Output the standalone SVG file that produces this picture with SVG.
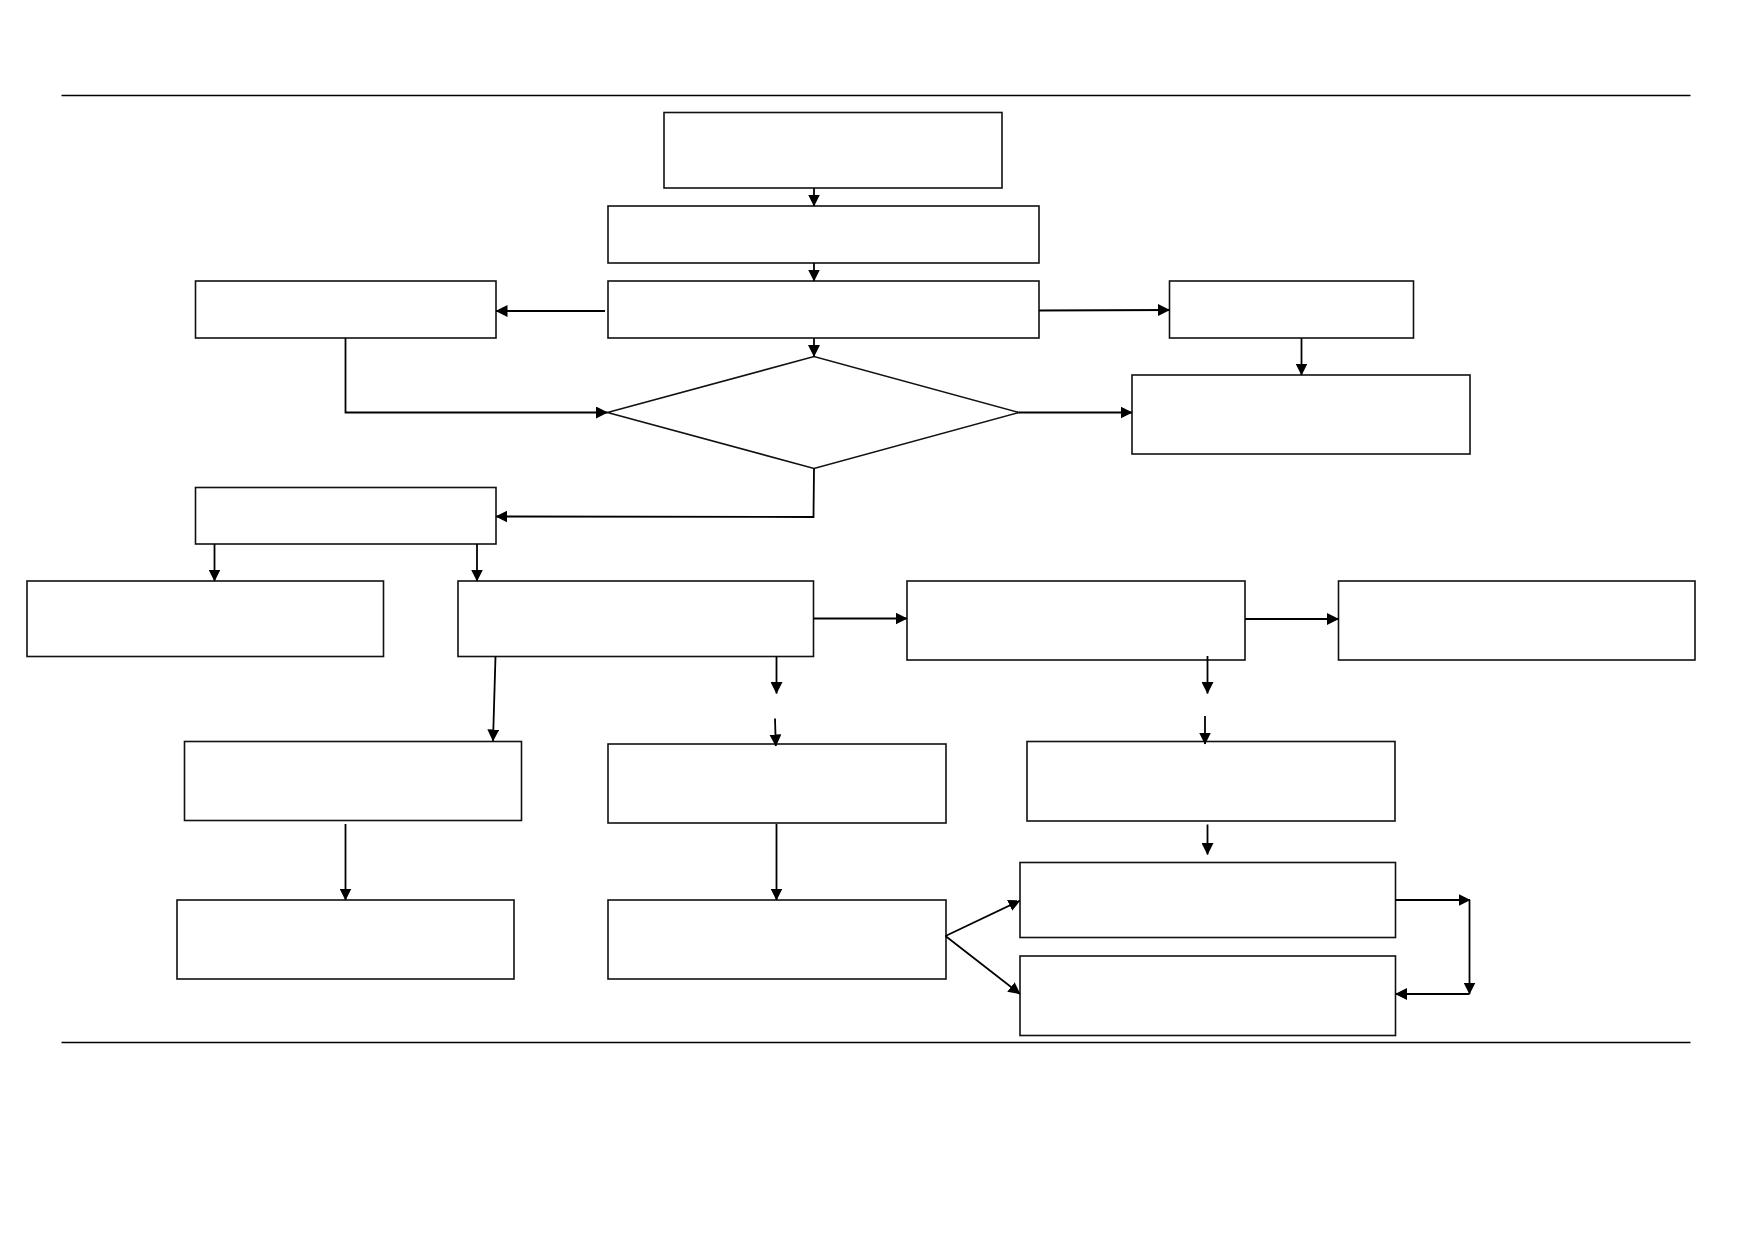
<svg xmlns="http://www.w3.org/2000/svg" width="1752" height="1239" viewBox="0 0 1752 1239">
<style>
.n{fill:#fff;stroke:#111;stroke-width:1.6}
.c{fill:none;stroke:#000;stroke-width:1.8}
.rule{stroke:#000;stroke-width:1.4}
</style>
<defs>
<marker id="ah" markerUnits="userSpaceOnUse" markerWidth="12" markerHeight="12" refX="11.5" refY="6" orient="auto">
<path d="M0,0 L12,6 L0,12 z" fill="#000"/>
</marker>
</defs>
<rect width="1752" height="1239" fill="#fff"/>
<line class="rule" x1="61.5" y1="95.5" x2="1690.5" y2="95.5"/>
<line class="rule" x1="61.5" y1="1042.5" x2="1690.5" y2="1042.5"/>
<g id="box1"><rect class="n" x="664" y="112.5" width="338" height="75.5"/></g>
<g id="box2"><rect class="n" x="608" y="206" width="431" height="57"/></g>
<g id="box3"><rect class="n" x="608" y="281" width="431" height="57"/></g>
<g id="boxA"><rect class="n" x="195.5" y="281" width="300.5" height="57"/></g>
<g id="boxB"><rect class="n" x="1169.5" y="281" width="244" height="57"/></g>
<g id="boxC"><rect class="n" x="1132" y="375" width="338" height="79"/></g>
<g id="decision"><polygon class="n" points="607.5,412.5 814,356.5 1019,412.5 814,468.5"/></g>
<g id="boxD"><rect class="n" x="195.5" y="487.5" width="300.5" height="56.5"/></g>
<g id="boxE"><rect class="n" x="27" y="581" width="356.5" height="75.5"/></g>
<g id="boxF"><rect class="n" x="458" y="581" width="355.5" height="75.5"/></g>
<g id="boxG"><rect class="n" x="907" y="581" width="338" height="79"/></g>
<g id="boxH"><rect class="n" x="1338.5" y="581" width="356.5" height="79"/></g>
<g id="boxI"><rect class="n" x="184.5" y="741.5" width="337" height="79"/></g>
<g id="boxJ"><rect class="n" x="608" y="744" width="338" height="79"/></g>
<g id="boxK"><rect class="n" x="1027" y="741.5" width="368" height="79.5"/></g>
<g id="boxL"><rect class="n" x="177" y="900" width="337" height="79"/></g>
<g id="boxM"><rect class="n" x="608" y="900" width="338" height="79"/></g>
<g id="boxN"><rect class="n" x="1020" y="862.5" width="375.5" height="75"/></g>
<g id="boxO"><rect class="n" x="1020" y="956" width="375.5" height="79.5"/></g>
<g id="connectors">
<path class="c" marker-end="url(#ah)" d="M814,188 L814,206"/>
<path class="c" marker-end="url(#ah)" d="M814,263 L814,281"/>
<path class="c" marker-end="url(#ah)" d="M814,338 L814,356.5"/>
<path class="c" marker-end="url(#ah)" d="M605,311 L496,311"/>
<path class="c" marker-end="url(#ah)" d="M1039,310.5 L1169.5,310"/>
<path class="c" marker-end="url(#ah)" d="M1301.5,338 L1301.5,375"/>
<path class="c" marker-end="url(#ah)" d="M345.5,338 L345.5,412.5 L607.5,412.5"/>
<path class="c" marker-end="url(#ah)" d="M1019,412.5 L1132,412.5"/>
<path class="c" marker-end="url(#ah)" d="M814,468.5 L813.5,517 L496,516.5"/>
<path class="c" marker-end="url(#ah)" d="M214.5,544 L214.5,581"/>
<path class="c" marker-end="url(#ah)" d="M477,544 L477,581"/>
<path class="c" marker-end="url(#ah)" d="M813.5,618.5 L907,618.5"/>
<path class="c" marker-end="url(#ah)" d="M1245,619 L1338.5,619"/>
<path class="c" marker-end="url(#ah)" d="M495.5,656.5 L493,741"/>
<path class="c" marker-end="url(#ah)" d="M776.5,656.5 L776.5,693.5"/>
<path class="c" marker-end="url(#ah)" d="M775,718.5 L775.8,746"/>
<path class="c" marker-end="url(#ah)" d="M1207.5,656 L1207.5,693.5"/>
<path class="c" marker-end="url(#ah)" d="M1205,716 L1205,744"/>
<path class="c" marker-end="url(#ah)" d="M345.5,824 L345.5,900"/>
<path class="c" marker-end="url(#ah)" d="M776.5,824 L776.5,900"/>
<path class="c" marker-end="url(#ah)" d="M1207.5,824.5 L1207.5,854.5"/>
<path class="c" marker-end="url(#ah)" d="M945.5,936 L1020,900.5"/>
<path class="c" marker-end="url(#ah)" d="M945.5,936 L1020,994"/>
<path class="c" marker-end="url(#ah)" d="M1395.5,900 L1470,900"/>
<path class="c" marker-end="url(#ah)" d="M1469.5,900 L1469.5,994"/>
<path class="c" marker-end="url(#ah)" d="M1469.5,994 L1395.5,994"/>
</g>
</svg>
